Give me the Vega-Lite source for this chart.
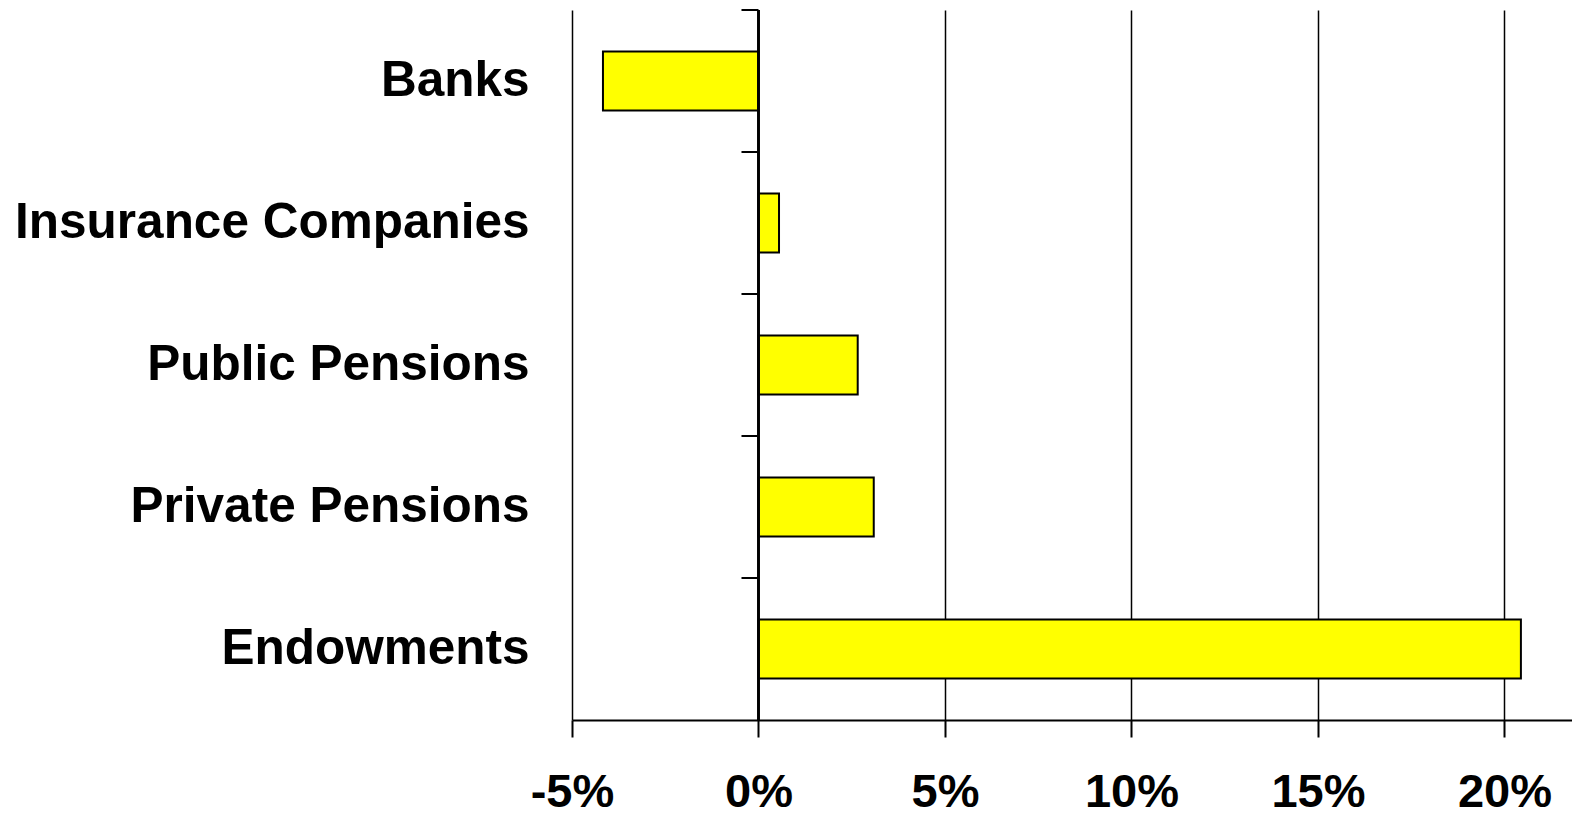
{
  "$schema": "https://vega.github.io/schema/vega-lite/v6.json",
  "autosize": {"type": "none"},
  "padding": {"left": 572, "top": 10, "right": 0, "bottom": 96},
  "width": 1000,
  "height": 710,
  "background": "white",
  "config": {
    "view": {"stroke": null},
    "font": "Liberation Sans"
  },
  "data": {
    "values": [
      {"category": "Banks", "value": -4.17},
      {"category": "Insurance Companies", "value": 0.55},
      {"category": "Public Pensions", "value": 2.66},
      {"category": "Private Pensions", "value": 3.09},
      {"category": "Endowments", "value": 20.44}
    ]
  },
  "layer": [
    {
      "mark": {"type": "bar", "fill": "#FFFF00", "stroke": "black", "strokeWidth": 2, "height": {"band": 0.415}},
      "encoding": {
        "y": {
          "field": "category", "type": "nominal", "sort": null,
          "scale": {"paddingInner": 0, "paddingOuter": 0},
          "axis": {
            "title": null, "ticks": false, "domain": false, "grid": false,
            "labelPadding": 43, "labelFontSize": 49.5, "labelFont": "Liberation Sans",
            "labelFontWeight": "bold", "labelColor": "black", "labelLimit": 1000
          }
        },
        "x": {
          "field": "value", "type": "quantitative",
          "scale": {"domain": [-5, 21.81], "nice": false, "zero": false},
          "axis": {
            "title": null, "values": [-5, 0, 5, 10, 15, 20],
            "labelExpr": "datum.value + '%'",
            "grid": true, "gridColor": "black", "gridOpacity": 1, "gridWidth": 1.5,
            "domain": true, "domainColor": "black", "domainWidth": 2,
            "ticks": true, "tickSize": 17, "tickColor": "black", "tickWidth": 2,
            "labelPadding": 32, "labelFontSize": 47, "labelFont": "Liberation Sans",
            "labelFontWeight": "bold", "labelColor": "black", "labelFlush": false,
            "labelOverlap": false
          }
        }
      }
    },
    {
      "mark": {"type": "rule", "color": "black", "strokeWidth": 2},
      "encoding": {"x": {"datum": 0}}
    },
    {
      "mark": {"type": "rule", "color": "black", "strokeWidth": 2},
      "encoding": {
        "y": {"field": "category", "type": "nominal", "sort": null, "bandPosition": 0},
        "x": {"datum": -0.456},
        "x2": {"datum": 0}
      }
    }
  ]
}
